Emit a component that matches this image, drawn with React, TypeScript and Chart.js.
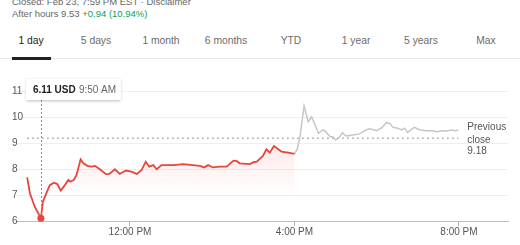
import React, { useEffect, useRef } from "react";
import { Chart, registerables } from "chart.js";

Chart.register(...registerables);

const regularTimes = [
  "9:30", "9:34", "9:41", "9:50", "9:53", "9:58", "10:03", "10:09", "10:14", "10:19",
  "10:25", "10:30", "10:33", "10:38", "10:42", "10:48", "10:52", "10:58", "11:04", "11:09",
  "11:16", "11:25", "11:30", "11:38", "11:45", "11:54", "12:02", "12:10", "12:17", "12:23",
  "12:28", "12:34", "12:39", "12:46", "13:03", "13:18", "13:32", "13:42", "13:48", "13:54",
  "14:01", "14:11", "14:21", "14:31", "14:36", "14:40", "14:55", "15:00", "15:05", "15:14",
  "15:19", "15:24", "15:30", "15:41", "15:51", "16:00",
];
const regularPrices = [
  7.68, 7.07, 6.55, 6.11, 6.74, 7.07, 7.38, 7.47, 7.42, 7.17,
  7.38, 7.58, 7.51, 7.58, 7.77, 8.37, 8.22, 8.12, 8.09, 8.12,
  7.99, 7.8, 7.81, 7.99, 7.81, 7.94, 7.9, 7.81, 7.96, 8.28,
  8.09, 8.15, 7.99, 8.15, 8.15, 8.19, 8.15, 8.12, 8.06, 8.15,
  8.06, 8.09, 8.09, 8.32, 8.3, 8.22, 8.19, 8.26, 8.28, 8.5,
  8.76, 8.63, 8.88, 8.67, 8.63, 8.58,
];
const afterTimes = [
  "16:00", "16:01", "16:04", "16:08", "16:14", "16:20", "16:25", "16:35", "16:41", "16:44",
  "16:52", "16:56", "17:00", "17:06", "17:10", "17:15", "17:23", "17:35", "17:44", "17:50",
  "18:00", "18:08", "18:14", "18:19", "18:24", "18:31", "18:36", "18:41", "18:45", "18:51",
  "18:55", "19:03", "19:13", "19:22", "19:27", "19:35", "19:42", "19:49", "19:54", "19:59",
];
const afterPrices = [
  8.58, 8.63, 8.76, 9.24, 10.42, 9.82, 10.01, 9.37, 9.5, 9.48,
  9.24, 9.24, 9.12, 9.24, 9.4, 9.27, 9.3, 9.35, 9.5, 9.55,
  9.47, 9.6, 9.79, 9.75, 9.6, 9.57, 9.5, 9.57, 9.4, 9.53,
  9.6, 9.5, 9.47, 9.47, 9.43, 9.47, 9.46, 9.5, 9.47, 9.5,
];
const previousClose = 9.18;
const yTickValues = [6, 7, 8, 9, 10, 11];
const xTickTimes = ["12:00", "16:00", "20:00"];
const tooltipTime = "9:50";
const tabs = ["1 day", "5 days", "1 month", "6 months", "YTD", "1 year", "5 years", "Max"];

const FONT = "'Liberation Sans', Arial, sans-serif";

const toMin = (s: string) => {
  const [h, m] = s.split(":").map(Number);
  return h * 60 + m;
};
const fmtTime = (v: number) => {
  const h = Math.floor(v / 60);
  const m = Math.round(v % 60);
  const h12 = ((h + 11) % 12) + 1;
  return `${h12}:${String(m).padStart(2, "0")} ${h >= 12 ? "PM" : "AM"}`;
};

const tipIndex = regularTimes.indexOf(tooltipTime);

const overlayPlugin = {
  id: "overlay",
  afterDatasetsDraw(chart: any) {
    const ctx = chart.ctx;
    const area = chart.chartArea;
    const yScale = chart.scales.y;
    const xScale = chart.scales.x;
    ctx.save();

    ctx.font = `10px ${FONT}`;
    ctx.fillStyle = "#555555";
    ctx.textAlign = "left";
    ctx.textBaseline = "middle";
    yTickValues.forEach((v) => {
      ctx.fillText(String(v), 12, yScale.getPixelForValue(v) + 0.5);
    });

    const meta = chart.getDatasetMeta(0);
    const pt = meta.data[tipIndex];
    if (pt) {
      const px = pt.x;
      const py = pt.y;
      const boxLeft = px - 15;
      const boxTop = area.top + 1;
      const boxW = 95;
      const boxH = 21;

      ctx.strokeStyle = "#8a8a8a";
      ctx.lineWidth = 1;
      ctx.setLineDash([2, 2]);
      ctx.beginPath();
      ctx.moveTo(Math.round(px) + 0.5, boxTop + boxH);
      ctx.lineTo(Math.round(px) + 0.5, py);
      ctx.stroke();
      ctx.setLineDash([]);

      ctx.fillStyle = "#e8453c";
      ctx.beginPath();
      ctx.arc(px, py, 3.5, 0, Math.PI * 2);
      ctx.fill();

      ctx.shadowColor = "rgba(0,0,0,0.25)";
      ctx.shadowBlur = 3;
      ctx.shadowOffsetY = 1;
      ctx.fillStyle = "#ffffff";
      ctx.fillRect(boxLeft, boxTop, boxW, boxH);
      ctx.shadowColor = "transparent";
      ctx.shadowBlur = 0;
      ctx.shadowOffsetY = 0;
      ctx.font = `bold 10px ${FONT}`;
      ctx.fillStyle = "#222222";
      ctx.fillText(`${regularPrices[tipIndex].toFixed(2)} USD`, boxLeft + 7, boxTop + boxH / 2 + 1);
      ctx.font = `10px ${FONT}`;
      ctx.fillStyle = "#666666";
      ctx.fillText(fmtTime(toMin(tooltipTime)), boxLeft + 53, boxTop + boxH / 2 + 1);
    }

    const yp = yScale.getPixelForValue(previousClose);
    const xl = xScale.getPixelForValue(toMin(afterTimes[afterTimes.length - 1])) + 9;
    ctx.font = `10px ${FONT}`;
    ctx.fillStyle = "#555555";
    ctx.fillText("Previous", xl, yp - 11);
    ctx.fillText("close", xl, yp + 1.5);
    ctx.fillText(previousClose.toFixed(2), xl, yp + 13);
    ctx.restore();
  },
};

export default function App() {
  const ref = useRef<HTMLCanvasElement | null>(null);

  useEffect(() => {
    if (!ref.current) return;
    Chart.defaults.font.family = FONT;
    const chart = new Chart(ref.current, {
      type: "line",
      data: {
        datasets: [
          {
            data: regularTimes.map((t, i) => ({ x: toMin(t), y: regularPrices[i] })),
            borderColor: "#e8453c",
            borderWidth: 1.8,
            pointRadius: 0,
            tension: 0,
            fill: "start",
            backgroundColor: (c: any) => {
              const ch = c.chart;
              if (!ch.chartArea) return "rgba(232,69,60,0.08)";
              const y = ch.scales.y;
              const g = ch.ctx.createLinearGradient(0, y.getPixelForValue(8.9), 0, y.getPixelForValue(6.9));
              g.addColorStop(0, "rgba(232,69,60,0.11)");
              g.addColorStop(1, "rgba(232,69,60,0)");
              return g;
            },
          },
          {
            data: afterTimes.map((t, i) => ({ x: toMin(t), y: afterPrices[i] })),
            borderColor: "#c6c6c6",
            borderWidth: 1.5,
            pointRadius: 0,
            tension: 0,
            fill: false,
          },
          {
            data: [
              { x: toMin(regularTimes[0]), y: previousClose },
              { x: toMin(afterTimes[afterTimes.length - 1]), y: previousClose },
            ],
            borderColor: "#a0a0a0",
            borderWidth: 1.5,
            borderDash: [1.5, 3.5],
            pointRadius: 0,
            fill: false,
          },
        ],
      },
      options: {
        animation: false,
        responsive: false,
        layout: { padding: { left: 16, right: 12, top: 18, bottom: 7 } },
        plugins: { legend: { display: false }, tooltip: { enabled: false } },
        scales: {
          x: {
            type: "linear",
            min: 553.7,
            max: 1271.5,
            afterBuildTicks: (s: any) => {
              s.ticks = xTickTimes.map((t) => ({ value: toMin(t) }));
            },
            ticks: {
              callback: (v: any) => fmtTime(Number(v)),
              color: "#555555",
              font: { size: 10 },
              padding: 0,
              maxRotation: 0,
              autoSkip: false,
            },
            grid: { drawOnChartArea: false, drawTicks: true, tickLength: 5, color: "#b5b5b5" },
            border: { display: true, color: "#bdbdbd" },
          },
          y: {
            min: 6,
            max: 11.5,
            afterBuildTicks: (s: any) => {
              s.ticks = yTickValues.map((v) => ({ value: v }));
            },
            ticks: { display: false },
            grid: { color: "#eeeeee", drawTicks: false },
            border: { display: false },
          },
        },
      },
      plugins: [overlayPlugin],
    });
    return () => chart.destroy();
  }, []);

  return (
    <div
      style={{
        position: "fixed",
        left: 0,
        top: 0,
        width: 520,
        height: 245,
        overflow: "hidden",
        background: "#fff",
        fontFamily: FONT,
      }}
    >
      <div style={{ position: "absolute", left: 12, top: -4, zIndex: 2, fontSize: 9.5, lineHeight: "12px", color: "#666", whiteSpace: "nowrap" }}>
        Closed: Feb 23, 7:59 PM EST · Disclaimer
      </div>
      <div style={{ position: "absolute", left: 12, top: 7.5, fontSize: 9.5, lineHeight: "12px", color: "#666", whiteSpace: "nowrap" }}>
        After hours 9.53 <span style={{ color: "#0f9d58" }}>+0.94 (10.94%)</span>
      </div>
      {tabs.map((t, i) => (
        <div
          key={t}
          style={{
            position: "absolute",
            left: -1.5 + i * 65,
            width: 65,
            top: 34.7,
            fontSize: 10.3,
            lineHeight: "12px",
            textAlign: "center",
            color: i === 0 ? "#202124" : "#6b6b6b",
            whiteSpace: "nowrap",
          }}
        >
          {t}
        </div>
      ))}
      <div style={{ position: "absolute", left: 0, top: 58, width: 520, height: 1, background: "#e6e6e6" }} />
      <div style={{ position: "absolute", left: 11.5, top: 57, width: 39.5, height: 3, background: "#202124" }} />
      <canvas ref={ref} width={520} height={185} style={{ position: "absolute", left: 0, top: 60, width: 520, height: 185 }} />
    </div>
  );
}
